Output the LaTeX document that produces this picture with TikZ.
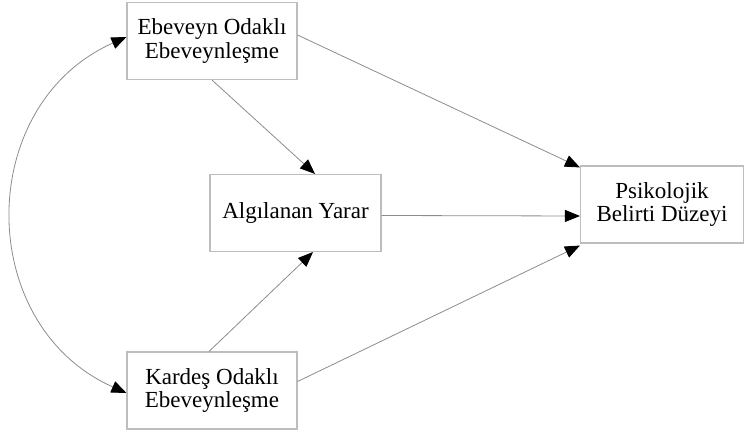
\documentclass[tikz,border=0pt]{standalone}
\usepackage{fontspec}
\setmainfont{Liberation Serif}
\usepackage{tikz}
\usetikzlibrary{
  arrows.meta,
  positioning,
  calc
}
\usepackage{xcolor}
\definecolor{boxGray}{rgb}{0.74,0.74,0.74}
\definecolor{lineGray}{rgb}{0.55,0.55,0.55}
\tikzset{
  varBox/.style={
    rectangle,
    draw=boxGray,
    line width=1.1pt,
    minimum width=170pt,
    minimum height=77pt,
    inner sep=4pt,
    align=center,
    font=\fontsize{23}{23.5}\selectfont,
    text=black
  }
}
\tikzset{
  pathLine/.style={
    ->,
    draw=lineGray,
    line width=0.8pt
  }
}

\begin{document}
\begin{tikzpicture}[x=1pt, y=-1pt,
    >={Triangle[length=15pt, width=12pt, color=black]}]
    \useasboundingbox (0,0) rectangle (744,435);

    \node[varBox] (ebeveyn) at (212,41) {Ebeveyn Odaklı\\Ebeveynleşme};
    \node[varBox, minimum width=171pt] (yarar) at (295.5,213) {Algılanan Yarar};
    \node[varBox, minimum width=163pt] (psiko) at (662,204.5) {Psikolojik\\Belirti Düzeyi};
    \node[varBox] (kardes) at (212,390.5) {Kardeş Odaklı\\Ebeveynleşme};

    \draw[pathLine]
    (ebeveyn.south) -- ([xshift=19.5pt]yarar.north);
    \draw[pathLine]
    ([xshift=-3pt]kardes.north) -- ([xshift=17.5pt]yarar.south);
    \draw[pathLine]
    ([yshift=6pt]ebeveyn.east) -- ([yshift=-2pt]psiko.north west);
    \draw[pathLine]
    ([yshift=-2.5pt]yarar.east) -- ([yshift=-11.5pt]psiko.west);
    \draw[pathLine]
    ([yshift=9pt]kardes.east) -- ([yshift=-2pt]psiko.south west);
    \draw[pathLine, <->]
    ([yshift=4pt]ebeveyn.west)
    to[out=204, in=156, looseness=1.2]
    ([yshift=-2.5pt]kardes.west);
\end{tikzpicture}
\end{document}
